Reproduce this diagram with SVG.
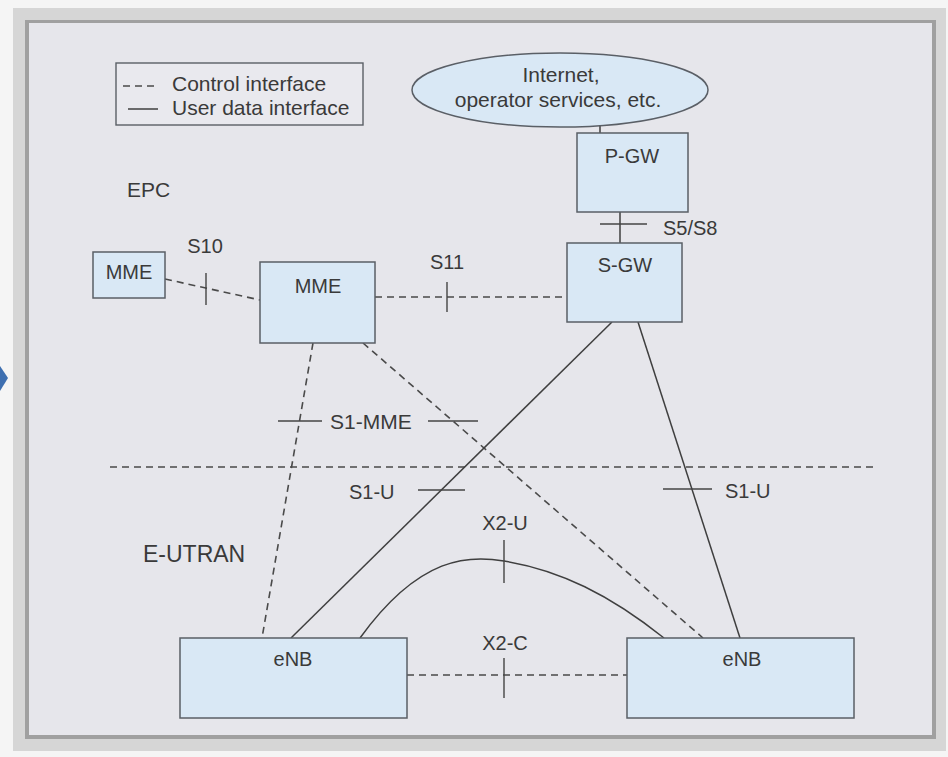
<svg xmlns="http://www.w3.org/2000/svg" width="948" height="757" viewBox="0 0 948 757">
<style>
.t{font-family:"Liberation Sans",Arial,sans-serif;fill:#3a3a3a}
.box{fill:#d9e8f5;stroke:#5a5f66;stroke-width:1.5}
.dash{fill:none;stroke:#4a4a4a;stroke-width:1.6;stroke-dasharray:7 5}
.solid{fill:none;stroke:#3f3f3f;stroke-width:1.5}
.tick{fill:none;stroke:#444;stroke-width:1.4}
</style>
<rect x="0" y="0" width="948" height="757" fill="#f5f5f5"/>
<rect x="13" y="8" width="933" height="743" fill="#d6d6d6"/>
<rect x="25" y="20" width="911" height="719" fill="#a0a0a0"/>
<rect x="29" y="23" width="903" height="712" fill="#e6e6eb"/>
<polygon points="0,366 8,378 0,391" fill="#3e6fb0"/>

<g id="legend">
<rect x="116" y="63" width="247" height="62" fill="#e9e9ee" stroke="#5a5f66" stroke-width="1.4"/>
<line x1="123" y1="86" x2="158" y2="86" class="dash" stroke-dasharray="6 4"/>
<line x1="128" y1="109" x2="158" y2="109" class="solid"/>
<text x="172" y="91" class="t" font-size="21">Control interface</text>
<text x="172" y="115" class="t" font-size="21">User data interface</text>
</g>

<text x="127" y="197" class="t" font-size="21">EPC</text>
<text x="143" y="562" class="t" font-size="23">E-UTRAN</text>

<g id="connectors">
<line x1="600" y1="126" x2="600" y2="133" class="solid"/>
<line x1="620" y1="212" x2="620" y2="243" class="solid"/>
<line x1="600" y1="224" x2="647" y2="224" class="tick"/>
<line x1="165" y1="279" x2="260" y2="300" class="dash"/>
<line x1="206" y1="273" x2="206" y2="305" class="tick"/>
<line x1="375" y1="297" x2="567" y2="297" class="dash"/>
<line x1="447" y1="282" x2="447" y2="312" class="tick"/>
<line x1="313" y1="343" x2="262" y2="638" class="dash"/>
<line x1="363" y1="343" x2="703" y2="638" class="dash"/>
<line x1="278" y1="421" x2="322" y2="421" class="tick"/>
<line x1="428" y1="421" x2="478" y2="421" class="tick"/>
<line x1="110" y1="467" x2="877" y2="467" class="dash" stroke-dasharray="8 6" stroke-width="1.4"/>
<line x1="612" y1="322" x2="291" y2="638" class="solid"/>
<line x1="638" y1="322" x2="740" y2="638" class="solid"/>
<line x1="418" y1="490" x2="465" y2="490" class="tick"/>
<line x1="663" y1="489" x2="712" y2="489" class="tick"/>
<path d="M360,638 C420,555 470,555 504,561 C560,570 610,595 664,638" class="solid"/>
<line x1="504" y1="540" x2="504" y2="583" class="tick"/>
<line x1="407" y1="675" x2="627" y2="675" class="dash"/>
<line x1="504" y1="658" x2="504" y2="698" class="tick"/>
</g>

<g id="labels">
<text x="663" y="235" class="t" font-size="20">S5/S8</text>
<text x="205" y="253" class="t" font-size="20" text-anchor="middle">S10</text>
<text x="447" y="269" class="t" font-size="20" text-anchor="middle">S11</text>
<text x="330" y="429" class="t" font-size="21">S1-MME</text>
<text x="349" y="499" class="t" font-size="20">S1-U</text>
<text x="725" y="498" class="t" font-size="20">S1-U</text>
<text x="505" y="530" class="t" font-size="20" text-anchor="middle">X2-U</text>
<text x="505" y="650" class="t" font-size="20" text-anchor="middle">X2-C</text>
</g>

<g id="internet">
<ellipse cx="560" cy="90" rx="148" ry="37" class="box"/>
<text x="561" y="82" class="t" font-size="21" text-anchor="middle">Internet,</text>
<text x="558" y="107" class="t" font-size="21" text-anchor="middle">operator services, etc.</text>
</g>
<g id="pgw">
<rect x="577" y="133" width="111" height="79" class="box"/>
<text x="632" y="163" class="t" font-size="20" text-anchor="middle">P-GW</text>
</g>
<g id="sgw">
<rect x="567" y="243" width="115" height="79" class="box"/>
<text x="625" y="272" class="t" font-size="20" text-anchor="middle">S-GW</text>
</g>
<g id="mme-peer">
<rect x="93" y="252" width="72" height="46" class="box"/>
<text x="129" y="279" class="t" font-size="20" text-anchor="middle">MME</text>
</g>
<g id="mme">
<rect x="260" y="262" width="115" height="81" class="box"/>
<text x="318" y="293" class="t" font-size="20" text-anchor="middle">MME</text>
</g>
<g id="enb-left">
<rect x="180" y="638" width="227" height="80" class="box"/>
<text x="293" y="666" class="t" font-size="20" text-anchor="middle">eNB</text>
</g>
<g id="enb-right">
<rect x="627" y="638" width="227" height="80" class="box"/>
<text x="742" y="666" class="t" font-size="20" text-anchor="middle">eNB</text>
</g>
</svg>
